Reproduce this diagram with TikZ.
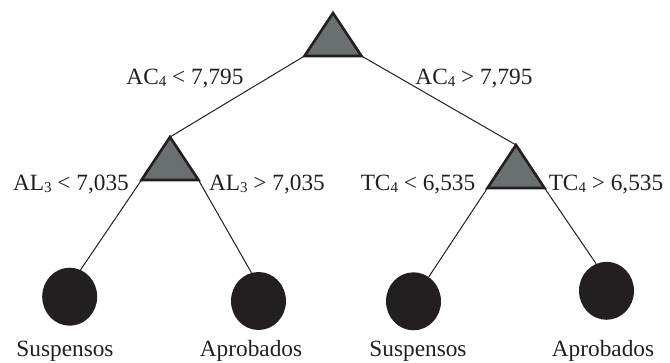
\documentclass[tikz,border=0pt]{standalone}
\usepackage{fontspec}
\setmainfont{Liberation Serif}
\usetikzlibrary{shapes.geometric}
\definecolor{nodegray}{RGB}{106,112,111}
\definecolor{leafblack}{RGB}{35,31,32}
% small index digit set on the baseline
\newcommand{\idx}[1]{\raisebox{-1.2pt}{\fontsize{15}{15}\selectfont #1}}
% split node: apex, left and right base corners
\newcommand{\splitpoints}[3]{%
  \coordinate (#1-a) at (#2,#3);
  \coordinate (#1-l) at ({#2-28.5},{#3+43});
  \coordinate (#1-r) at ({#2+28.5},{#3+43});}
\begin{document}
\begin{tikzpicture}[x=1pt,y=-1pt,
  branch/.style={draw=leafblack, line width=1pt},
  splitnode/.style={draw=leafblack, fill=nodegray, line width=2.6pt, line join=miter},
  leaf/.style={ellipse, fill=leafblack, minimum width=55pt, minimum height=58pt, inner sep=0pt},
  lbl/.style={font=\fontsize{23.3}{28}\selectfont, inner sep=0pt, anchor=base, text=leafblack},
]
\useasboundingbox (0,0) rectangle (670,363);

% split nodes
\splitpoints{root}{333}{13}
\splitpoints{sa}{170}{137}
\splitpoints{sb}{516}{145}

% leaves
\node[leaf] (l1) at (69.7,296.7) {};
\node[leaf] (l2) at (258.5,301) {};
\node[leaf] (l3) at (413.5,301.3) {};
\node[leaf] (l4) at (606.5,290.8) {};

% branches
\draw[branch] (root-l) -- (sa-a);
\draw[branch] (root-r) -- (sb-a);
\draw[branch] (sa-l) -- (l1.68);
\draw[branch] (sa-r) -- (l2.104);
\draw[branch] (sb-l) -- (l3.58);
\draw[branch] (sb-r) -- (l4.111);

% triangles on top of the branch ends
\foreach \t in {root,sa,sb}
  \draw[splitnode] (\t-a) -- (\t-r) -- (\t-l) -- cycle;

% branch conditions
\node[lbl] (c1) at (185,85) {AC\idx{4} < 7,795};
\node[lbl] (c2) at (474,85) {AC\idx{4} > 7,795};
\node[lbl] (c3) at (71,191) {AL\idx{3} < 7,035};
\node[lbl] (c4) at (267,191) {AL\idx{3} > 7,035};
\node[lbl] (c5) at (418,191) {TC\idx{4} < 6,535};
\node[lbl] (c6) at (606,191) {TC\idx{4} > 6,535};

% leaf classes
\node[lbl] (k1) at (65,357) {Suspensos};
\node[lbl] (k2) at (251,357) {Aprobados};
\node[lbl] (k3) at (418,357) {Suspensos};
\node[lbl] (k4) at (603,357) {Aprobados};
\end{tikzpicture}
\end{document}
